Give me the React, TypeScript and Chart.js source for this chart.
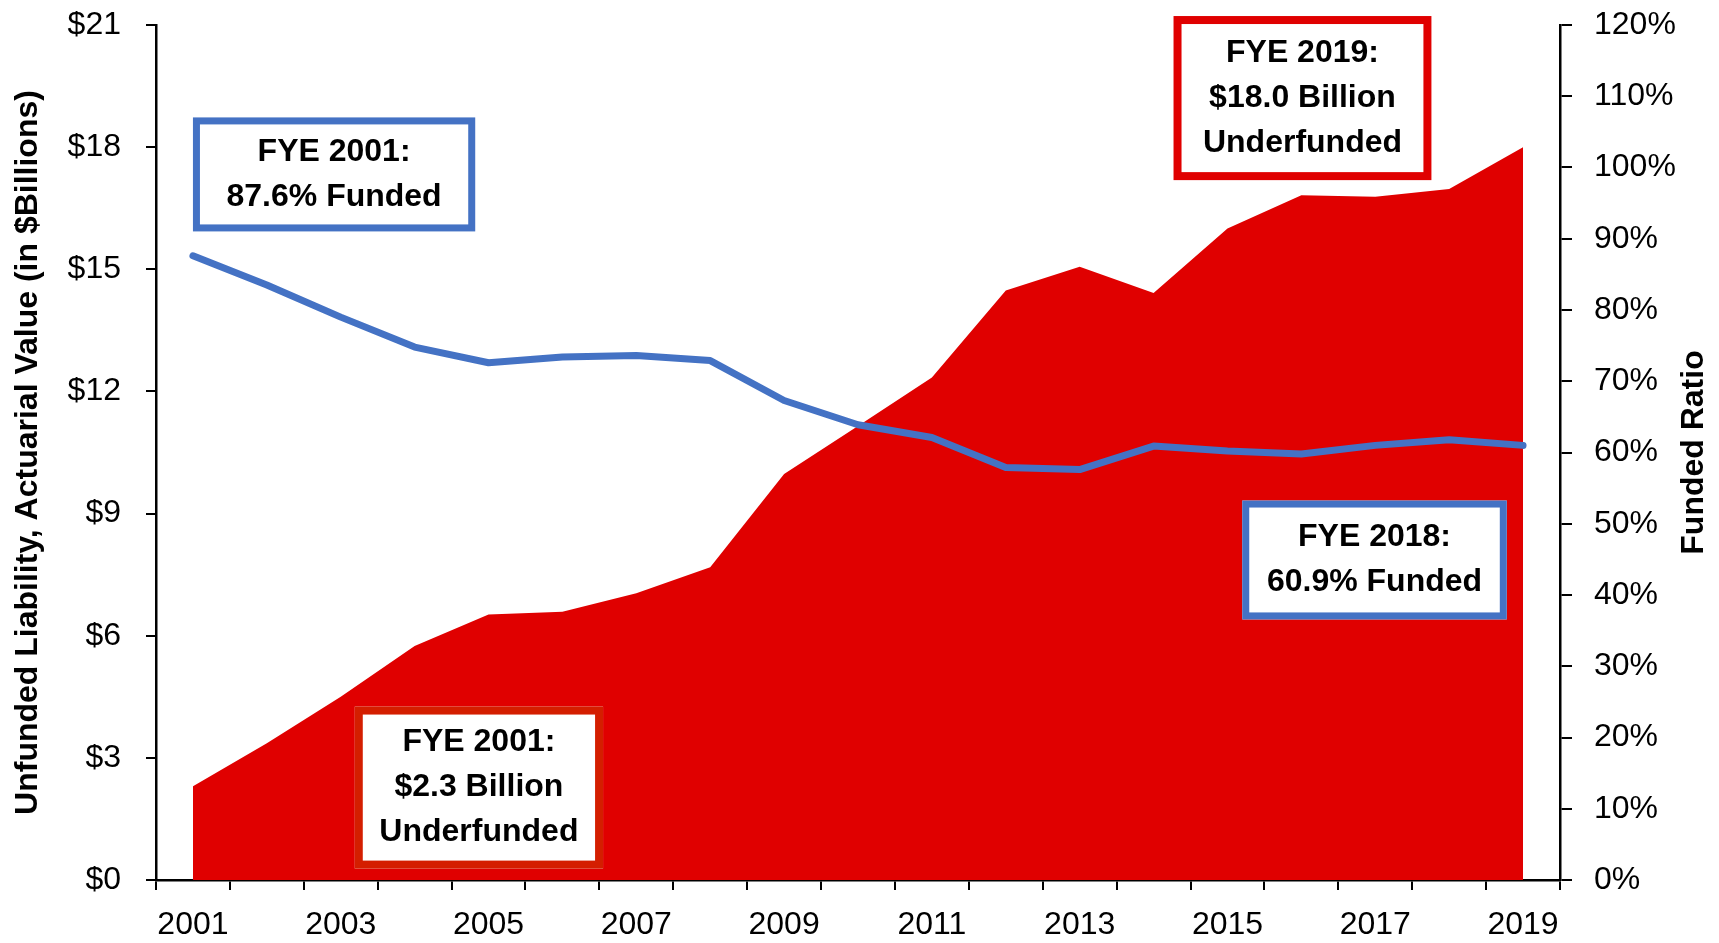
import React, { useEffect, useRef } from 'react';
import { Chart, registerables } from 'chart.js';

Chart.register(...registerables);

// ---- data ----
const years = ['2001', '2002', '2003', '2004', '2005', '2006', '2007', '2008', '2009', '2010',
  '2011', '2012', '2013', '2014', '2015', '2016', '2017', '2018', '2019'];
const unfundedLiability = [2.3, 3.36, 4.5, 5.75, 6.52, 6.59, 7.04, 7.68, 9.97, 11.15,
  12.34, 14.48, 15.06, 14.42, 16.0, 16.82, 16.78, 16.97, 18.0];
const fundedRatio = [87.6, 83.5, 79.0, 74.8, 72.6, 73.4, 73.6, 72.9, 67.3, 63.9,
  62.1, 57.9, 57.6, 60.9, 60.2, 59.8, 61.0, 61.8, 61.0];
const zeroBaseline = [0, 0, 0, 0, 0, 0, 0, 0, 0, 0, 0, 0, 0, 0, 0, 0, 0, 0, null];

const leftAxisMin = 0;
const leftAxisMax = 21;
const leftAxisStep = 3;
const rightAxisMin = 0;
const rightAxisMax = 120;
const rightAxisStep = 10;

const leftAxisTitle = 'Unfunded Liability, Actuarial Value (in $Billions)';
const rightAxisTitle = 'Funded Ratio';

// annotation boxes (x in category index, y in $Billions on left axis)
const annotationLines = [
  ['FYE 2001:', '87.6% Funded'],
  ['FYE 2019:', '$18.0 Billion', 'Underfunded'],
  ['FYE 2018:', '60.9% Funded'],
  ['FYE 2001:', '$2.3 Billion', 'Underfunded'],
];
const annotationX = [[0, 3.82], [13.27, 16.76], [14.2, 17.78], [2.19, 5.55]];
const annotationY = [[18.73, 15.93], [21.22, 17.19], [9.32, 6.4], [4.26, 0.28]];
const annotationColors = ['#4472C4', '#E00000', '#4472C4', '#D41E00'];
const annotationBorder = [7, 8, 7, 8];

const FONT = '"Liberation Sans", Arial, sans-serif';

const overlayPlugin = {
  id: 'overlay',
  afterDraw(chart: any) {
    const ctx = chart.ctx;
    const xs = chart.scales.x;
    const ys = chart.scales.y;
    const area = chart.chartArea;
    ctx.save();
    annotationLines.forEach((lines, i) => {
      const x0 = xs.getPixelForValue(annotationX[i][0]);
      const x1 = xs.getPixelForValue(annotationX[i][1]);
      const y0 = ys.getPixelForValue(annotationY[i][0]);
      const y1 = ys.getPixelForValue(annotationY[i][1]);
      const bw = annotationBorder[i];
      ctx.fillStyle = '#ffffff';
      ctx.fillRect(x0, y0, x1 - x0, y1 - y0);
      ctx.strokeStyle = annotationColors[i];
      ctx.lineWidth = bw;
      ctx.strokeRect(x0 + bw / 2, y0 + bw / 2, x1 - x0 - bw, y1 - y0 - bw);
      ctx.fillStyle = '#000000';
      ctx.font = `bold 32px ${FONT}`;
      ctx.textAlign = 'center';
      ctx.textBaseline = 'middle';
      const cx = (x0 + x1) / 2;
      const cy = (y0 + y1) / 2;
      const lh = 45;
      lines.forEach((t, j) => {
        ctx.fillText(t, cx, cy + (j - (lines.length - 1) / 2) * lh);
      });
    });
    const midY = (area.top + area.bottom) / 2;
    ctx.font = `bold 32px ${FONT}`;
    ctx.fillStyle = '#000000';
    ctx.textAlign = 'center';
    ctx.textBaseline = 'middle';
    ctx.save();
    ctx.translate(28, midY);
    ctx.rotate(-Math.PI / 2);
    ctx.fillText(leftAxisTitle, 0, 0);
    ctx.restore();
    ctx.save();
    ctx.translate(chart.width - 25, midY);
    ctx.rotate(-Math.PI / 2);
    ctx.fillText(rightAxisTitle, 0, 0);
    ctx.restore();
    ctx.restore();
  },
};

export default function App() {
  const ref = useRef<HTMLCanvasElement | null>(null);
  useEffect(() => {
    if (!ref.current) return;
    const chart = new Chart(ref.current, {
      type: 'line',
      data: {
        labels: years,
        datasets: [
          {
            label: 'Funded Ratio',
            data: fundedRatio,
            yAxisID: 'y1',
            borderColor: '#4472C4',
            borderWidth: 7,
            borderCapStyle: 'round',
            borderJoinStyle: 'round',
            pointRadius: 0,
            fill: false,
            tension: 0,
            order: 1,
          },
          {
            label: 'Unfunded Liability',
            data: unfundedLiability,
            yAxisID: 'y',
            backgroundColor: '#E00000',
            borderWidth: 0,
            pointRadius: 0,
            fill: 'origin',
            tension: 0,
            order: 2,
          },
          {
            label: 'Baseline',
            data: zeroBaseline,
            yAxisID: 'y1',
            borderColor: '#4472C4',
            borderWidth: 5,
            pointRadius: 0,
            fill: false,
            tension: 0,
            order: 3,
          },
        ],
      },
      options: {
        responsive: false,
        animation: false,
        devicePixelRatio: 1,
        layout: { padding: { top: 25, left: 0, right: 0, bottom: 0 } },
        plugins: { legend: { display: false }, tooltip: { enabled: false } },
        scales: {
          x: {
            type: 'category',
            offset: true,
            z: 1,
            grid: { offset: true, drawOnChartArea: false, drawTicks: true, tickLength: 10, color: '#000', lineWidth: 2 },
            border: { display: true, color: '#000', width: 2.5 },
            ticks: {
              autoSkip: false,
              maxRotation: 0,
              minRotation: 0,
              padding: 16,
              color: '#000',
              font: { family: FONT, size: 32 },
              callback: (_v: any, i: number) => (i % 2 === 0 ? years[i] : ''),
            },
            afterFit: (s: any) => { s.height = 63; },
          },
          y: {
            position: 'left',
            min: leftAxisMin,
            max: leftAxisMax,
            grid: { drawOnChartArea: false, drawTicks: true, tickLength: 10, color: '#000', lineWidth: 2 },
            border: { display: true, color: '#000', width: 2.5 },
            ticks: {
              stepSize: leftAxisStep,
              padding: 25,
              color: '#000',
              font: { family: FONT, size: 32, lineHeight: 0 },
              callback: (v: any) => '$' + v,
            },
            afterFit: (s: any) => { s.width = 156; s.paddingTop = 0; s.paddingBottom = 0; },
          },
          y1: {
            position: 'right',
            min: rightAxisMin,
            max: rightAxisMax,
            grid: { drawOnChartArea: false, drawTicks: true, tickLength: 12, color: '#000', lineWidth: 2 },
            border: { display: true, color: '#000', width: 2.5 },
            ticks: {
              stepSize: rightAxisStep,
              padding: 22,
              color: '#000',
              font: { family: FONT, size: 32, lineHeight: 0 },
              callback: (v: any) => v + '%',
            },
            afterFit: (s: any) => { s.width = 159; s.paddingTop = 0; s.paddingBottom = 0; },
          },
        },
      },
      plugins: [overlayPlugin],
    } as any);
    return () => chart.destroy();
  }, []);
  return (
    <div style={{ position: 'absolute', left: 0, top: 0, width: 1719, height: 943, background: '#fff' }}>
      <canvas ref={ref} width={1719} height={943} style={{ display: 'block' }} />
    </div>
  );
}
